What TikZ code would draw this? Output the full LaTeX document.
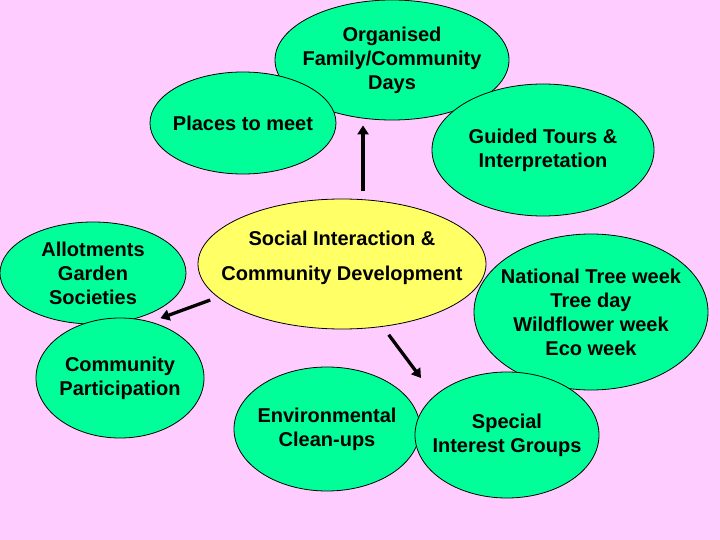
\documentclass[tikz,border=0pt]{standalone}
\usepackage{fontspec}
\setmainfont{Liberation Sans}
\definecolor{mypink}{RGB}{255,204,255}
\definecolor{mygreen}{RGB}{0,255,153}
\definecolor{myyellow}{RGB}{255,255,102}
\usetikzlibrary{shapes.geometric,arrows.meta,calc}

\begin{document}
\begin{tikzpicture}[x=1pt,y=-1pt,
    every node/.style={draw,ellipse,inner sep=-200pt,line width=0.8pt,align=center,
      font=\fontsize{20}{24}\selectfont\bfseries},
    bubble/.style={fill=mygreen},
    hub/.style={fill=myyellow},
    arr/.style={line width=3.3pt,-{Triangle[length=9pt,width=11pt]}}
    ]
    \fill[mypink] (0,0) rectangle (720,540);
    \useasboundingbox (0,0) rectangle (720,540);

    \node (org) [bubble,minimum width=234pt,minimum height=120pt] at (392,60) {Organised\\Family/Community\\Days};
    \node (meet) [bubble,minimum width=186pt,minimum height=102pt] at (243,123) {Places to meet};
    \node (tour) [bubble,minimum width=222pt,minimum height=132pt] at (543,150) {Guided Tours \&\\Interpretation};
    \node (soc) [hub,minimum width=288pt,minimum height=130pt] at (342,264)
      {\begin{tabular}{@{}c@{}}Social Interaction \&\\[11pt]Community Development\\[12pt]\end{tabular}};
    \node (allot) [bubble,minimum width=186pt,minimum height=102pt] at (93,273) {Allotments\\Garden\\Societies};
    \node (part) [bubble,minimum width=168pt,minimum height=120pt] at (120,378) {Community\\Participation};
    \node (week) [bubble,minimum width=234pt,minimum height=156pt] at (591,312) {National Tree week\\Tree day\\Wildflower week\\Eco week};
    \node (clean) [bubble,minimum width=186pt,minimum height=124pt] at (327,429) {Environmental\\Clean-ups};
    \node (spec) [bubble,minimum width=184pt,minimum height=126pt] at (507,435) {Special\\Interest Groups};

    % the arrows
    \coordinate (tipL) at ($(allot.-30)!0.5!(part.50)$);
    \coordinate (tipD) at (421,378);
    \draw[arr,shorten <=8pt,shorten >=5pt] (soc.72) -- (soc.72 |- org.south);
    \draw[arr,shorten <=8pt] (soc.195) -- (tipL);
    \draw[arr,shorten <=10pt] (soc.-57) -- (tipD);
\end{tikzpicture}
\end{document}
